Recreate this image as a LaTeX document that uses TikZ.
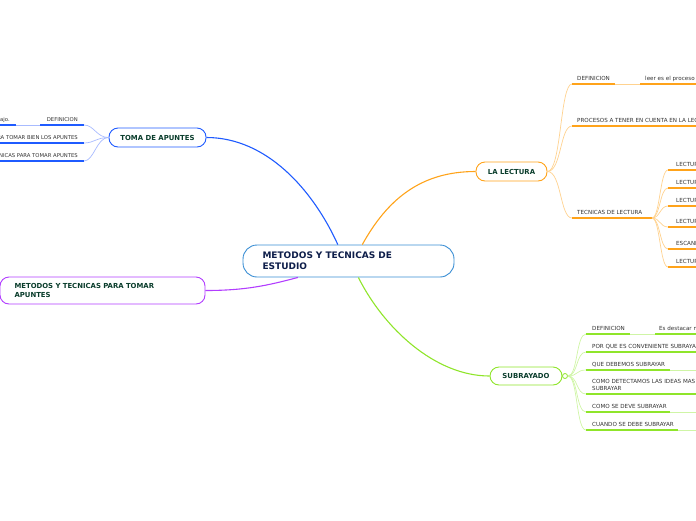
\documentclass[tikz,border=0pt]{standalone}
\usepackage{fontspec}
\setmainfont{DejaVu Sans}
\usetikzlibrary{positioning}

\definecolor{rootline}{HTML}{3A8ED4}
\definecolor{roottext}{HTML}{0E1E4A}
\definecolor{topictext}{HTML}{0A3D2C}
\definecolor{itemtext}{HTML}{333333}
\definecolor{tomablue}{HTML}{1F5BFF}
\definecolor{tomalight}{HTML}{A8BBFF}
\definecolor{lectorange}{HTML}{FFA31A}
\definecolor{lectlight}{HTML}{FFD28F}
\definecolor{subgreen}{HTML}{8FE52A}
\definecolor{sublight}{HTML}{CFF5A6}
\definecolor{metpurple}{HTML}{B23DFF}

\begin{document}
\begin{tikzpicture}[
    x=1pt, y=-1pt,
    % Stili per i nodi
    rootbox/.style={draw=rootline, fill=white, line width=0.9pt, rounded corners=14pt,
        minimum width=211pt, minimum height=32pt, text width=172pt, align=left,
        inner xsep=0pt, text=roottext, font=\bfseries\fontsize{9}{11}\selectfont},
    topic/.style={draw=#1, fill=white, line width=0.9pt, rounded corners=9pt,
        minimum height=19pt, inner xsep=0pt, text=topictext,
        font=\bfseries\fontsize{6.9}{8.2}\selectfont},
    leaf/.style={anchor=base west, inner sep=0pt, text=itemtext,
        font=\fontsize{5.6}{6.6}\selectfont},
    leftleaf/.style={leaf, anchor=base east, font=\fontsize{5.3}{6.4}\selectfont},
    % Stili per i rami
    branch/.style={line width=1.1pt},
    twig/.style={line width=0.7pt},
    bar/.style={line width=1.7pt}
]
    \useasboundingbox (0,0) rectangle (696,520);
    \clip (0,0) rectangle (696,520);

    % Nodi principali
    \node[rootbox] (root) at (348.5,261) {METODOS Y TECNICAS DE\\ESTUDIO};
    \node[topic=tomablue, minimum width=97pt] (toma) at (157.5,137.5) {TOMA DE APUNTES};
    \node[topic=lectorange, minimum width=71pt] (lectura) at (511.5,171.5) {LA LECTURA};
    \node[topic=subgreen, minimum width=72pt, minimum height=18pt] (subr) at (526,376) {SUBRAYADO};
    \node[topic=metpurple, minimum width=205pt, minimum height=27pt, text width=176pt,
        align=left] (metodos) at (102.5,290.5) {METODOS Y TECNICAS PARA TOMAR\\APUNTES};

    % Rami dal nodo centrale
    \draw[branch, tomablue] (root.123) .. controls +(-25,-55) and +(60,0) .. (toma.east);
    \draw[branch, lectorange] (root.50) .. controls +(25,-45) and +(-55,0) .. (lectura.west);
    \draw[branch, subgreen] (root.-59) .. controls +(25,50) and +(-55,0) .. (subr.west);
    \draw[branch, metpurple] (root.198) .. controls +(-30,8) and +(40,0) .. (metodos.east);

    % Toma de apuntes
    \coordinate (bd1) at (84,125);
    \coordinate (bd2) at (84,143);
    \coordinate (bd3) at (84,161);
    \foreach \c in {bd1,bd2,bd3}
        \draw[twig, tomalight] (toma.west) .. controls +(-12,0) and +(10,0) .. (\c);
    \draw[bar, tomablue] (bd1) -- ++(-44,0) coordinate (bd1a);
    \draw[twig, tomalight] (bd1a) -- ++(-24,0) coordinate (bd1b);
    \draw[bar, tomablue] (bd1b) -- ++(-22,0);
    \draw[bar, tomablue] (bd2) -- ++(-90,0);
    \draw[bar, tomablue] (bd3) -- ++(-90,0);
    \node[leftleaf] (bdef) at (78,121) {DEFINICION};
    \node[leftleaf] (bdefb) at (10,121) {trabajo.};
    \node[leftleaf] (bpasos) at (78,139.5) {PARA TOMAR BIEN LOS APUNTES};
    \node[leftleaf] (btec) at (78,157) {TECNICAS PARA TOMAR APUNTES};

    % La lectura
    \coordinate (ld1) at (572,84);
    \coordinate (ld2) at (572,126);
    \coordinate (ld3) at (572,218);
    \foreach \c in {ld1,ld2,ld3}
        \draw[twig, lectlight] (lectura.east) .. controls +(14,0) and +(-12,0) .. (\c);
    \draw[bar, lectorange] (ld1) -- ++(43,0) coordinate (ld1a);
    \draw[twig, lectlight] (ld1a) -- ++(25,0) coordinate (ld1b);
    \draw[bar, lectorange] (ld1b) -- ++(60,0);
    \draw[bar, lectorange] (ld2) -- ++(130,0);
    \draw[bar, lectorange] (ld3) -- ++(80,0) coordinate (ltec);
    \node[leaf] (ldef) at (577,80) {DEFINICION};
    \node[leaf] (ldefb) at (645,80) {leer es el proceso de};
    \node[leaf] (lproc) at (577,122) {PROCESOS A TENER EN CUENTA EN LA LECTURA};
    \node[leaf] (ltecn) at (577,214) {TECNICAS DE LECTURA};

    % Tecnicas de lectura
    \foreach \y/\t [count=\i] in {170/LECTURA, 188/LECTURA, 206/LECTURA,
                                  227/LECTURA, 249/ESCANEO, 267/LECTURA} {
        \coordinate (lt\i) at (668,\y);
        \draw[twig, lectlight] (ltec) .. controls +(8,0) and +(-8,0) .. (lt\i);
        \draw[bar, lectorange] (lt\i) -- ++(32,0);
        \node[leaf] (ltt\i) at (676,\y-4) {\t};
    }

    % Subrayado
    \node[circle, draw=subgreen, fill=white, line width=0.8pt, inner sep=0pt,
        minimum size=5pt] (sknob) at (565,376) {};
    \coordinate (sd1) at (586,334);
    \coordinate (sd2) at (586,352);
    \coordinate (sd3) at (586,370);
    \coordinate (sd4) at (586,394);
    \coordinate (sd5) at (586,412);
    \coordinate (sd6) at (586,430);
    \foreach \c in {sd1,sd2,sd3,sd4,sd5,sd6}
        \draw[twig, sublight] (sknob.east) .. controls +(10,0) and +(-10,0) .. (\c);
    \draw[bar, subgreen] (sd1) -- ++(44,0) coordinate (sd1a);
    \draw[twig, sublight] (sd1a) -- ++(25,0) coordinate (sd1b);
    \draw[bar, subgreen] (sd1b) -- ++(50,0);
    \draw[bar, subgreen] (sd2) -- ++(115,0);
    \draw[bar, subgreen] (sd3) -- ++(84,0) coordinate (sd3a);
    \draw[twig, sublight] (sd3a) -- ++(30,0);
    \draw[bar, subgreen] (sd4) -- ++(115,0);
    \draw[bar, subgreen] (sd5) -- ++(84,0) coordinate (sd5a);
    \draw[twig, sublight] (sd5a) -- ++(30,0);
    \draw[bar, subgreen] (sd6) -- ++(92,0) coordinate (sd6a);
    \draw[twig, sublight] (sd6a) -- ++(22,0);
    \node[leaf] (sdef) at (592,330) {DEFINICION};
    \node[leaf] (sdefb) at (659,330) {Es destacar mediante};
    \node[leaf] (sporq) at (592,348) {POR QUE ES CONVENIENTE SUBRAYAR};
    \node[leaf] (sque) at (592,366) {QUE DEBEMOS SUBRAYAR};
    \node[leaf, text width=140pt, align=left] (scomo) at (592,383.5)
        {COMO DETECTAMOS LAS IDEAS MAS\\SUBRAYAR};
    \node[leaf] (sdeve) at (592,408) {COMO SE DEVE SUBRAYAR};
    \node[leaf] (scuando) at (592,426) {CUANDO SE DEBE SUBRAYAR};

\end{tikzpicture}
\end{document}
